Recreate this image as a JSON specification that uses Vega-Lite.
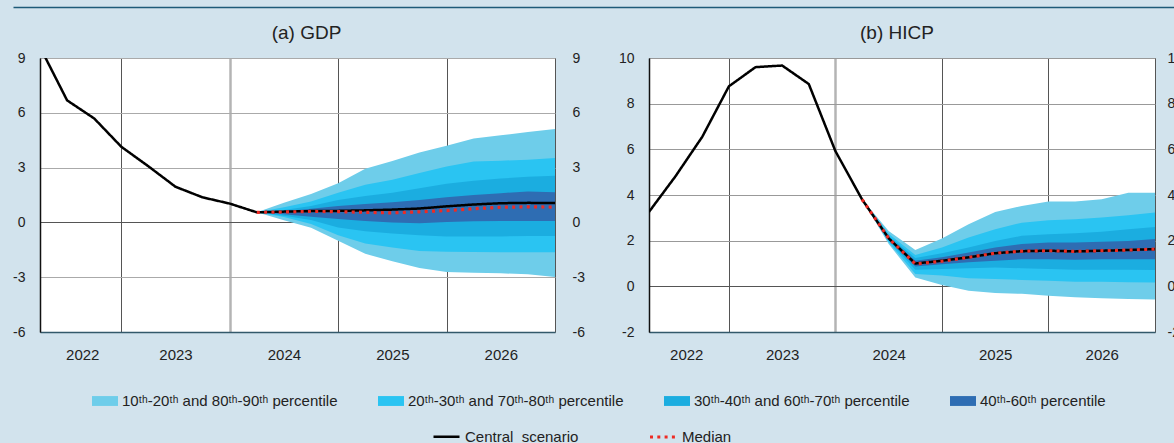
{
  "$schema": "https://vega.github.io/schema/vega-lite/v6.json",
  "background": "#d2e3ed",
  "padding": {"left": 12, "top": 6, "right": 0, "bottom": 6},
  "config": {
    "font": "Liberation Sans",
    "view": {"fill": "white", "stroke": "#555", "strokeWidth": 1},
    "axis": {"labelFont": "Liberation Sans", "labelFontSize": 14, "labelColor": "#222", "ticks": false, "domain": false, "labelFlush": false, "labelOverlap": false},
    "title": {"font": "Liberation Sans", "fontSize": 19, "fontWeight": "normal", "color": "#222", "offset": 8},
    "legend": {"labelFont": "Liberation Sans", "labelFontSize": 15, "labelColor": "#222", "labelLimit": 400, "padding": 0}
  },
  "datasets": {
    "gdp_fan": [
      {"t": 2024.25, "p10": 0.55, "p20": 0.55, "p30": 0.55, "p40": 0.55, "p60": 0.55, "p70": 0.55, "p80": 0.55, "p90": 0.55},
      {"t": 2024.5, "p10": 0.12, "p20": 0.30, "p30": 0.37, "p40": 0.44, "p60": 0.61, "p70": 0.68, "p80": 0.83, "p90": 1.08},
      {"t": 2024.75, "p10": -0.29, "p20": -0.09, "p30": 0.13, "p40": 0.31, "p60": 0.75, "p70": 0.90, "p80": 1.14, "p90": 1.56},
      {"t": 2025.0, "p10": -1.01, "p20": -0.70, "p30": -0.28, "p40": 0.18, "p60": 0.90, "p70": 1.23, "p80": 1.63, "p90": 2.15},
      {"t": 2025.25, "p10": -1.72, "p20": -1.16, "p30": -0.48, "p40": 0.07, "p60": 1.01, "p70": 1.45, "p80": 2.06, "p90": 2.94},
      {"t": 2025.5, "p10": -2.13, "p20": -1.38, "p30": -0.61, "p40": 0.0, "p60": 1.10, "p70": 1.63, "p80": 2.33, "p90": 3.36},
      {"t": 2025.75, "p10": -2.50, "p20": -1.56, "p30": -0.70, "p40": -0.04, "p60": 1.23, "p70": 1.87, "p80": 2.70, "p90": 3.83},
      {"t": 2026.0, "p10": -2.72, "p20": -1.61, "p30": -0.77, "p40": 0.02, "p60": 1.38, "p70": 2.11, "p80": 3.06, "p90": 4.20},
      {"t": 2026.25, "p10": -2.75, "p20": -1.62, "p30": -0.77, "p40": 0.06, "p60": 1.50, "p70": 2.28, "p80": 3.34, "p90": 4.59},
      {"t": 2026.5, "p10": -2.79, "p20": -1.63, "p30": -0.77, "p40": 0.07, "p60": 1.60, "p70": 2.40, "p80": 3.38, "p90": 4.77},
      {"t": 2026.75, "p10": -2.84, "p20": -1.63, "p30": -0.75, "p40": 0.07, "p60": 1.69, "p70": 2.50, "p80": 3.43, "p90": 4.95},
      {"t": 2027.0, "p10": -2.99, "p20": -1.63, "p30": -0.75, "p40": 0.07, "p60": 1.65, "p70": 2.55, "p80": 3.52, "p90": 5.12}
    ],
    "gdp_lines": [
      {"t": 2022.25, "series": "Central\u00a0 scenario", "v": 9.6},
      {"t": 2022.5, "series": "Central\u00a0 scenario", "v": 6.68},
      {"t": 2022.75, "series": "Central\u00a0 scenario", "v": 5.69},
      {"t": 2023.0, "series": "Central\u00a0 scenario", "v": 4.14},
      {"t": 2023.25, "series": "Central\u00a0 scenario", "v": 3.07},
      {"t": 2023.5, "series": "Central\u00a0 scenario", "v": 1.95},
      {"t": 2023.75, "series": "Central\u00a0 scenario", "v": 1.37},
      {"t": 2024.0, "series": "Central\u00a0 scenario", "v": 1.03},
      {"t": 2024.25, "series": "Central\u00a0 scenario", "v": 0.55},
      {"t": 2024.5, "series": "Central\u00a0 scenario", "v": 0.59},
      {"t": 2024.75, "series": "Central\u00a0 scenario", "v": 0.62},
      {"t": 2025.0, "series": "Central\u00a0 scenario", "v": 0.63},
      {"t": 2025.25, "series": "Central\u00a0 scenario", "v": 0.66},
      {"t": 2025.5, "series": "Central\u00a0 scenario", "v": 0.70},
      {"t": 2025.75, "series": "Central\u00a0 scenario", "v": 0.76},
      {"t": 2026.0, "series": "Central\u00a0 scenario", "v": 0.88},
      {"t": 2026.25, "series": "Central\u00a0 scenario", "v": 0.98},
      {"t": 2026.5, "series": "Central\u00a0 scenario", "v": 1.05},
      {"t": 2026.75, "series": "Central\u00a0 scenario", "v": 1.07},
      {"t": 2027.0, "series": "Central\u00a0 scenario", "v": 1.06},
      {"t": 2024.25, "series": "Median", "v": 0.55},
      {"t": 2024.5, "series": "Median", "v": 0.57},
      {"t": 2024.75, "series": "Median", "v": 0.60},
      {"t": 2025.0, "series": "Median", "v": 0.59},
      {"t": 2025.25, "series": "Median", "v": 0.55},
      {"t": 2025.5, "series": "Median", "v": 0.52},
      {"t": 2025.75, "series": "Median", "v": 0.58},
      {"t": 2026.0, "series": "Median", "v": 0.65},
      {"t": 2026.25, "series": "Median", "v": 0.75},
      {"t": 2026.5, "series": "Median", "v": 0.83},
      {"t": 2026.75, "series": "Median", "v": 0.85},
      {"t": 2027.0, "series": "Median", "v": 0.84}
    ],
    "hicp_fan": [
      {"t": 2024.25, "p10": 3.81, "p20": 3.81, "p30": 3.81, "p40": 3.81, "p60": 3.81, "p70": 3.81, "p80": 3.81, "p90": 3.81},
      {"t": 2024.5, "p10": 1.85, "p20": 1.93, "p30": 2.0, "p40": 2.05, "p60": 2.15, "p70": 2.22, "p80": 2.3, "p90": 2.42},
      {"t": 2024.75, "p10": 0.39, "p20": 0.54, "p30": 0.73, "p40": 0.87, "p60": 1.12, "p70": 1.24, "p80": 1.37, "p90": 1.59},
      {"t": 2025.0, "p10": 0.06, "p20": 0.47, "p30": 0.76, "p40": 0.97, "p60": 1.27, "p70": 1.45, "p80": 1.70, "p90": 2.09},
      {"t": 2025.25, "p10": -0.19, "p20": 0.35, "p30": 0.79, "p40": 1.05, "p60": 1.48, "p70": 1.70, "p80": 2.14, "p90": 2.72},
      {"t": 2025.5, "p10": -0.29, "p20": 0.32, "p30": 0.83, "p40": 1.12, "p60": 1.70, "p70": 1.99, "p80": 2.50, "p90": 3.26},
      {"t": 2025.75, "p10": -0.33, "p20": 0.28, "p30": 0.79, "p40": 1.19, "p60": 1.85, "p70": 2.21, "p80": 2.79, "p90": 3.52},
      {"t": 2026.0, "p10": -0.41, "p20": 0.25, "p30": 0.76, "p40": 1.19, "p60": 1.92, "p70": 2.28, "p80": 2.89, "p90": 3.71},
      {"t": 2026.25, "p10": -0.48, "p20": 0.20, "p30": 0.73, "p40": 1.16, "p60": 1.92, "p70": 2.33, "p80": 2.94, "p90": 3.71},
      {"t": 2026.5, "p10": -0.52, "p20": 0.20, "p30": 0.73, "p40": 1.19, "p60": 1.95, "p70": 2.39, "p80": 3.01, "p90": 3.81},
      {"t": 2026.75, "p10": -0.55, "p20": 0.18, "p30": 0.73, "p40": 1.19, "p60": 1.99, "p70": 2.50, "p80": 3.11, "p90": 4.10},
      {"t": 2027.0, "p10": -0.58, "p20": 0.17, "p30": 0.71, "p40": 1.19, "p60": 2.07, "p70": 2.60, "p80": 3.23, "p90": 4.10}
    ],
    "hicp_lines": [
      {"t": 2022.25, "series": "Central\u00a0 scenario", "v": 3.26},
      {"t": 2022.5, "series": "Central\u00a0 scenario", "v": 4.83},
      {"t": 2022.75, "series": "Central\u00a0 scenario", "v": 6.55},
      {"t": 2023.0, "series": "Central\u00a0 scenario", "v": 8.76},
      {"t": 2023.25, "series": "Central\u00a0 scenario", "v": 9.6},
      {"t": 2023.5, "series": "Central\u00a0 scenario", "v": 9.67},
      {"t": 2023.75, "series": "Central\u00a0 scenario", "v": 8.86},
      {"t": 2024.0, "series": "Central\u00a0 scenario", "v": 5.92},
      {"t": 2024.25, "series": "Central\u00a0 scenario", "v": 3.81},
      {"t": 2024.5, "series": "Central\u00a0 scenario", "v": 2.1},
      {"t": 2024.75, "series": "Central\u00a0 scenario", "v": 1.0},
      {"t": 2025.0, "series": "Central\u00a0 scenario", "v": 1.12},
      {"t": 2025.25, "series": "Central\u00a0 scenario", "v": 1.27},
      {"t": 2025.5, "series": "Central\u00a0 scenario", "v": 1.45},
      {"t": 2025.75, "series": "Central\u00a0 scenario", "v": 1.54},
      {"t": 2026.0, "series": "Central\u00a0 scenario", "v": 1.56},
      {"t": 2026.25, "series": "Central\u00a0 scenario", "v": 1.53},
      {"t": 2026.5, "series": "Central\u00a0 scenario", "v": 1.56},
      {"t": 2026.75, "series": "Central\u00a0 scenario", "v": 1.59},
      {"t": 2027.0, "series": "Central\u00a0 scenario", "v": 1.63},
      {"t": 2024.25, "series": "Median", "v": 3.81},
      {"t": 2024.5, "series": "Median", "v": 2.1},
      {"t": 2024.75, "series": "Median", "v": 0.98},
      {"t": 2025.0, "series": "Median", "v": 1.1},
      {"t": 2025.25, "series": "Median", "v": 1.27},
      {"t": 2025.5, "series": "Median", "v": 1.45},
      {"t": 2025.75, "series": "Median", "v": 1.54},
      {"t": 2026.0, "series": "Median", "v": 1.56},
      {"t": 2026.25, "series": "Median", "v": 1.53},
      {"t": 2026.5, "series": "Median", "v": 1.56},
      {"t": 2026.75, "series": "Median", "v": 1.59},
      {"t": 2027.0, "series": "Median", "v": 1.63}
    ]
  },
  "spacing": 14,
  "vconcat": [
    {
      "width": 1134,
      "height": 1,
      "view": {"fill": "transparent", "stroke": "transparent"},
      "data": {"values": [{"k": 0}]},
      "mark": {"type": "point", "opacity": 0, "size": 0},
      "encoding": {
        "x": {"field": "k", "type": "quantitative", "scale": {"domain": [0, 1], "range": [-27, 1134]},
          "axis": {"orient": "top", "title": null, "domain": true, "domainColor": "#1d5a78", "domainWidth": 1.5, "labels": false, "ticks": false, "grid": false}}
      }
    },
    {
      "hconcat": [
        {
          "width": 515,
          "height": 274,
          "title": {"text": "(a) GDP", "dx": 9},
          "resolve": {"axis": {"x": "independent", "y": "independent"}},
          "layer": [
            {
              "data": {"name": "gdp_fan"},
              "mark": {"type": "area", "clip": true},
              "encoding": {
                "x": {"field": "t", "type": "quantitative", "title": null, "scale": {"domain": [2022.25, 2027], "nice": false, "zero": false},
                  "axis": {"orient": "bottom", "values": [2023, 2024, 2025, 2026, 2027], "labels": false, "grid": true,
                    "gridColor": {"condition": {"test": "datum.value == 2024", "value": "#b4b4b4"}, "value": "#555555"},
                    "gridWidth": {"condition": {"test": "datum.value == 2024", "value": 2.5}, "value": 1},
                    "domain": true, "domainColor": "#33596b", "domainWidth": 1.5}},
                "y": {"field": "p10", "type": "quantitative", "title": null, "scale": {"domain": [-6, 9], "nice": false, "zero": false},
                  "axis": {"orient": "left", "values": [-6, -3, 0, 3, 6, 9], "grid": true,
                    "gridColor": {"condition": {"test": "datum.value == 0", "value": "#555555"}, "value": "#aaaaaa"},
                    "labelPadding": 15, "labelExpr": "datum.value + ''", "domain": true, "domainColor": "#111111", "domainWidth": 1.5}},
                "y2": {"field": "p90"},
                "fill": {"datum": "10ᵗʰ-20ᵗʰ and 80ᵗʰ-90ᵗʰ percentile", "type": "nominal",
                  "scale": {"domain": ["10ᵗʰ-20ᵗʰ and 80ᵗʰ-90ᵗʰ percentile", "20ᵗʰ-30ᵗʰ and 70ᵗʰ-80ᵗʰ percentile", "30ᵗʰ-40ᵗʰ and 60ᵗʰ-70ᵗʰ percentile", "40ᵗʰ-60ᵗʰ percentile"], "range": ["#6ecdea", "#2ac4f2", "#1badE0", "#2e6db3"]},
                  "legend": {"orient": "none", "legendX": 52, "legendY": 381, "direction": "horizontal", "title": null, "columnPadding": 40, "symbolType": "M-1,-0.38H1V0.38H-1Z", "symbolSize": 676, "symbolStrokeWidth": 0, "labelOffset": 4}}
              }
            },
            {
              "data": {"name": "gdp_fan"},
              "mark": {"type": "area", "clip": true},
              "encoding": {
                "x": {"field": "t", "type": "quantitative", "axis": null},
                "y": {"field": "p20", "type": "quantitative", "axis": null},
                "y2": {"field": "p80"},
                "fill": {"datum": "20ᵗʰ-30ᵗʰ and 70ᵗʰ-80ᵗʰ percentile", "type": "nominal"}
              }
            },
            {
              "data": {"name": "gdp_fan"},
              "mark": {"type": "area", "clip": true},
              "encoding": {
                "x": {"field": "t", "type": "quantitative", "axis": null},
                "y": {"field": "p30", "type": "quantitative", "axis": null},
                "y2": {"field": "p70"},
                "fill": {"datum": "30ᵗʰ-40ᵗʰ and 60ᵗʰ-70ᵗʰ percentile", "type": "nominal"}
              }
            },
            {
              "data": {"name": "gdp_fan"},
              "mark": {"type": "area", "clip": true},
              "encoding": {
                "x": {"field": "t", "type": "quantitative", "title": null,
                  "axis": {"orient": "bottom", "values": [2022.64, 2023.5, 2024.5, 2025.5, 2026.5], "labelExpr": "floor(datum.value) + ''", "labelFontSize": 15, "grid": false, "domain": false, "labelPadding": 15}},
                "y": {"field": "p40", "type": "quantitative", "title": null,
                  "axis": {"orient": "right", "values": [-6, -3, 0, 3, 6, 9], "grid": false, "labelPadding": 17, "labelExpr": "datum.value + ''", "domain": false}},
                "y2": {"field": "p60"},
                "fill": {"datum": "40ᵗʰ-60ᵗʰ percentile", "type": "nominal"}
              }
            },
            {
              "data": {"name": "gdp_lines"},
              "mark": {"type": "line", "clip": true},
              "encoding": {
                "x": {"field": "t", "type": "quantitative", "axis": null},
                "y": {"field": "v", "type": "quantitative", "axis": null},
                "stroke": {"field": "series", "type": "nominal",
                  "scale": {"domain": ["Central\u00a0 scenario", "Median"], "range": ["#000000", "#ee2b24"]},
                  "legend": {"orient": "none", "legendX": 392, "legendY": 415, "direction": "horizontal", "title": null, "columnPadding": 64, "symbolType": "stroke", "symbolSize": 676, "symbolStrokeWidth": 2.5, "labelOffset": 4}},
                "strokeDash": {"field": "series", "type": "nominal",
                  "scale": {"domain": ["Central\u00a0 scenario", "Median"], "range": [[1, 0], [3, 4.3]]},
                  "legend": {"orient": "none", "legendX": 392, "legendY": 415, "direction": "horizontal", "title": null, "columnPadding": 64, "symbolType": "stroke", "symbolSize": 676, "symbolStrokeWidth": 2.5, "labelOffset": 4}},
                "strokeWidth": {"field": "series", "type": "ordinal", "scale": {"domain": ["Central\u00a0 scenario", "Median"], "range": [2.5, 3.2]}, "legend": null}
              }
            }
          ]
        },
        {
          "width": 506,
          "height": 274,
          "title": {"text": "(b) HICP", "dx": -5},
          "resolve": {"axis": {"x": "independent", "y": "independent"}},
          "layer": [
            {
              "data": {"name": "hicp_fan"},
              "mark": {"type": "area", "clip": true},
              "encoding": {
                "x": {"field": "t", "type": "quantitative", "title": null, "scale": {"domain": [2022.25, 2027], "nice": false, "zero": false},
                  "axis": {"orient": "bottom", "values": [2023, 2024, 2025, 2026, 2027], "labels": false, "grid": true,
                    "gridColor": {"condition": {"test": "datum.value == 2024", "value": "#b4b4b4"}, "value": "#555555"},
                    "gridWidth": {"condition": {"test": "datum.value == 2024", "value": 2.5}, "value": 1},
                    "domain": true, "domainColor": "#33596b", "domainWidth": 1.5}},
                "y": {"field": "p10", "type": "quantitative", "title": null, "scale": {"domain": [-2, 10], "nice": false, "zero": false},
                  "axis": {"orient": "left", "values": [-2, 0, 2, 4, 6, 8, 10], "grid": true,
                    "gridColor": {"condition": {"test": "datum.value == 0", "value": "#555555"}, "value": "#999999"},
                    "labelPadding": 15, "labelExpr": "datum.value + ''", "domain": true, "domainColor": "#111111", "domainWidth": 1.5}},
                "y2": {"field": "p90"},
                "fill": {"datum": "10ᵗʰ-20ᵗʰ and 80ᵗʰ-90ᵗʰ percentile", "type": "nominal"}
              }
            },
            {
              "data": {"name": "hicp_fan"},
              "mark": {"type": "area", "clip": true},
              "encoding": {
                "x": {"field": "t", "type": "quantitative", "axis": null},
                "y": {"field": "p20", "type": "quantitative", "axis": null},
                "y2": {"field": "p80"},
                "fill": {"datum": "20ᵗʰ-30ᵗʰ and 70ᵗʰ-80ᵗʰ percentile", "type": "nominal"}
              }
            },
            {
              "data": {"name": "hicp_fan"},
              "mark": {"type": "area", "clip": true},
              "encoding": {
                "x": {"field": "t", "type": "quantitative", "axis": null},
                "y": {"field": "p30", "type": "quantitative", "axis": null},
                "y2": {"field": "p70"},
                "fill": {"datum": "30ᵗʰ-40ᵗʰ and 60ᵗʰ-70ᵗʰ percentile", "type": "nominal"}
              }
            },
            {
              "data": {"name": "hicp_fan"},
              "mark": {"type": "area", "clip": true},
              "encoding": {
                "x": {"field": "t", "type": "quantitative", "title": null,
                  "axis": {"orient": "bottom", "values": [2022.6, 2023.5, 2024.5, 2025.5, 2026.5], "labelExpr": "floor(datum.value) + ''", "labelFontSize": 15, "grid": false, "domain": false, "labelPadding": 15}},
                "y": {"field": "p40", "type": "quantitative", "title": null,
                  "axis": {"orient": "right", "values": [-2, 0, 2, 4, 6, 8, 10], "grid": false, "labelPadding": 12, "labelExpr": "datum.value + ''", "domain": false}},
                "y2": {"field": "p60"},
                "fill": {"datum": "40ᵗʰ-60ᵗʰ percentile", "type": "nominal"}
              }
            },
            {
              "data": {"name": "hicp_lines"},
              "mark": {"type": "line", "clip": true},
              "encoding": {
                "x": {"field": "t", "type": "quantitative", "axis": null},
                "y": {"field": "v", "type": "quantitative", "axis": null},
                "stroke": {"field": "series", "type": "nominal"},
                "strokeDash": {"field": "series", "type": "nominal"},
                "strokeWidth": {"field": "series", "type": "ordinal", "legend": null}
              }
            }
          ]
        }
      ],
      "spacing": 94,
      "bounds": "flush"
    }
  ]
}
